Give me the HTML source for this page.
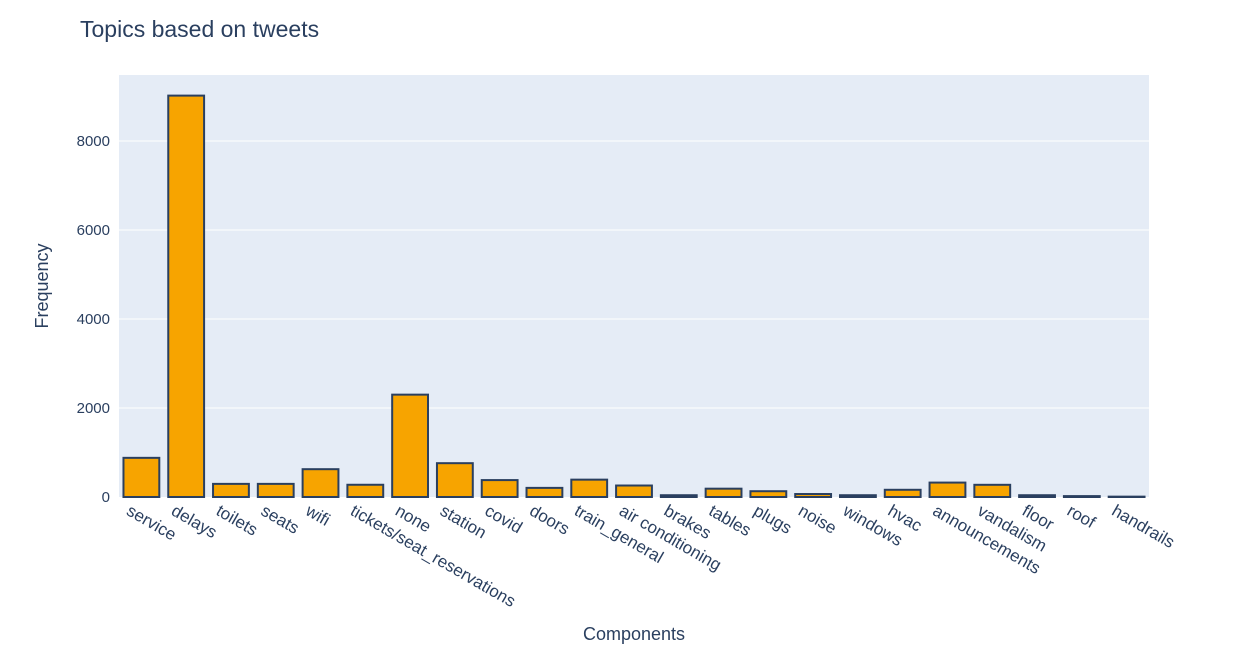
<!DOCTYPE html>
<html><head><meta charset="utf-8"><style>
body{margin:0;background:#fff;font-family:"Liberation Sans",sans-serif;}
svg text{font-family:"Liberation Sans",sans-serif;fill:#2a3f5f;}
</style></head><body>
<svg id="chart" width="1251" height="665">
<text x="80" y="37" font-size="23">Topics based on tweets</text>
<rect x="119" y="75" width="1030" height="422" fill="#e5ecf6"/>
<g id="grid"></g><g id="bars"></g><g id="xt"></g><g id="yt"></g>
<text x="634" y="640" font-size="18" text-anchor="middle">Components</text>
<text x="48" y="286" font-size="18" text-anchor="middle" transform="rotate(-90 48 286)">Frequency</text>
</svg>
<script>
const categories=["service","delays","toilets","seats","wifi","tickets/seat_reservations","none","station","covid","doors","train_general","air conditioning","brakes","tables","plugs","noise","windows","hvac","announcements","vandalism","floor","roof","handrails"];
const values=[880,9020,295,295,625,275,2300,760,380,205,390,258,40,187,130,67,40,162,324,274,40,20,8];
const yTicks=[0,2000,4000,6000,8000];
const NS="http://www.w3.org/2000/svg";
const x0=119,pw=1030,yb=497,kpx=356/8000;
const step=pw/categories.length;
const y=v=>yb-v*kpx;
const mk=(t,a,p)=>{const e=document.createElementNS(NS,t);for(const k in a)e.setAttribute(k,a[k]);document.getElementById(p).appendChild(e);return e;};
yTicks.forEach(t=>{
 if(t>0){const g=mk('line',{x1:x0,x2:x0+pw,y1:y(t),y2:y(t),stroke:'#fff','stroke-width':1},'grid');
 
 }
 const l=mk('text',{x:x0-9,y:y(t)+5,'font-size':15,'text-anchor':'end'},'yt');
 l.textContent=t;
 
 
});
categories.forEach((c,i)=>{
 const bw=step*0.8,bx=x0+i*step+step*0.1;
 const r=mk('rect',{x:bx,y:y(values[i]),width:bw,height:values[i]*kpx,fill:'#f7a400',stroke:'#2a3f5f','stroke-width':2},'bars');
 
 
 const cx=x0+(i+0.5)*step;
 const tx=cx-16,ty=514;
 const t=mk('text',{x:tx,y:ty,'font-size':17,transform:`rotate(30 ${tx} ${ty})`},'xt');
 t.textContent=c;
 
 
});
</script>
</body></html>
